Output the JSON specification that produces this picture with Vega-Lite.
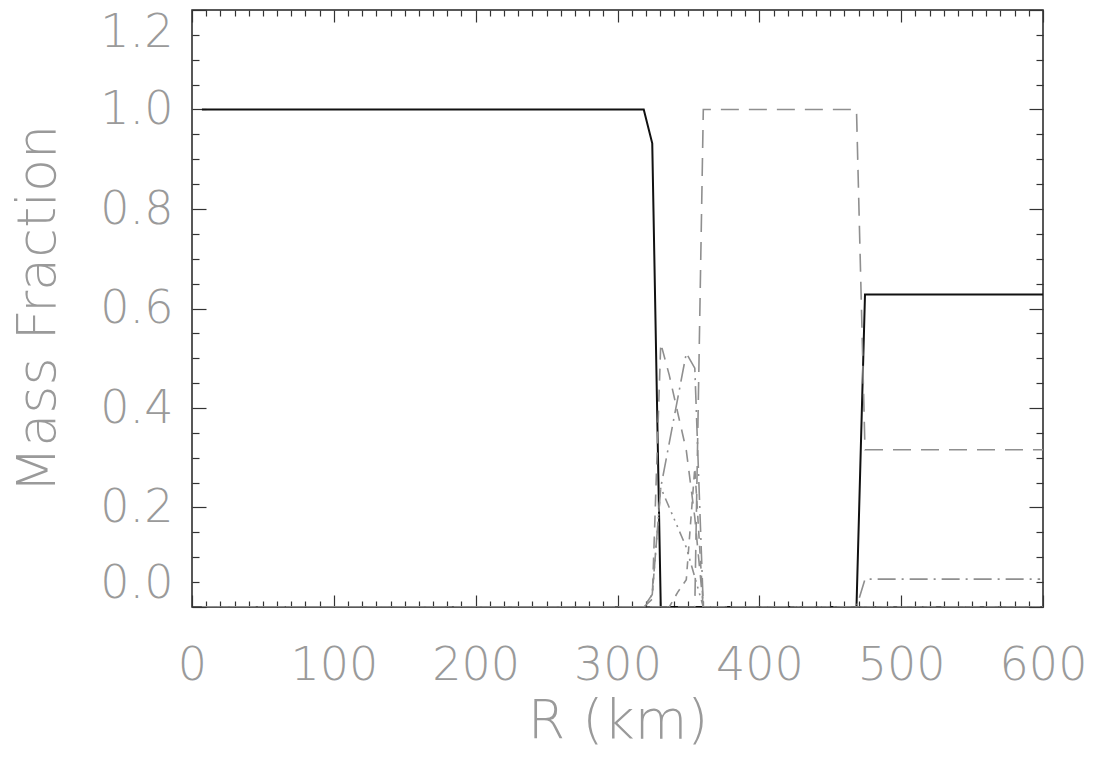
{
  "$schema": "https://vega.github.io/schema/vega-lite/v6.json",
  "width": 851,
  "height": 597,
  "autosize": {"type": "none"},
  "padding": {"left": 192, "top": 10, "right": 51, "bottom": 156},
  "background": "white",
  "config": {
    "view": {"stroke": "#222222", "strokeWidth": 1.5},
    "axis": {
      "grid": false,
      "domain": false,
      "labelFont": "DejaVu Sans",
      "titleFont": "DejaVu Sans",
      "labelFontWeight": 200,
      "titleFontWeight": 200,
      "labelColor": "#9a9a9a",
      "titleColor": "#9a9a9a",
      "labelFontSize": 46,
      "titleFontSize": 54,
      "tickColor": "#333333",
      "tickWidth": 1.2
    }
  },
  "data": {
    "values": [
      {"s": "a", "R": 7, "v": 1.0},
      {"s": "a", "R": 318.5, "v": 1.0},
      {"s": "a", "R": 324.5, "v": 0.932},
      {"s": "a", "R": 330.5, "v": 0.0},
      {"s": "a", "R": 468.5, "v": 0.0},
      {"s": "a", "R": 474.5, "v": 0.628},
      {"s": "a", "R": 600, "v": 0.628},
      {"s": "b", "R": 7, "v": 0.0},
      {"s": "b", "R": 354.5, "v": 0.0},
      {"s": "b", "R": 360.5, "v": 1.0},
      {"s": "b", "R": 468.5, "v": 1.0},
      {"s": "b", "R": 474.5, "v": 0.316},
      {"s": "b", "R": 600, "v": 0.316},
      {"s": "c", "R": 7, "v": 0.0},
      {"s": "c", "R": 318.5, "v": 0.0},
      {"s": "c", "R": 324.5, "v": 0.025},
      {"s": "c", "R": 330.5, "v": 0.24},
      {"s": "c", "R": 336.5, "v": 0.33},
      {"s": "c", "R": 342.5, "v": 0.42},
      {"s": "c", "R": 348.5, "v": 0.51},
      {"s": "c", "R": 354.5, "v": 0.48},
      {"s": "c", "R": 360.5, "v": 0.0},
      {"s": "c", "R": 468.5, "v": 0.0},
      {"s": "c", "R": 474.5, "v": 0.056},
      {"s": "c", "R": 598, "v": 0.056},
      {"s": "d", "R": 7, "v": 0.0},
      {"s": "d", "R": 318.5, "v": 0.0},
      {"s": "d", "R": 324.5, "v": 0.016},
      {"s": "d", "R": 330.5, "v": 0.53},
      {"s": "d", "R": 336.5, "v": 0.466},
      {"s": "d", "R": 342.5, "v": 0.39},
      {"s": "d", "R": 348.5, "v": 0.315},
      {"s": "d", "R": 354.5, "v": 0.18},
      {"s": "d", "R": 360.5, "v": 0.0},
      {"s": "d", "R": 600, "v": 0.0},
      {"s": "e", "R": 7, "v": 0.0},
      {"s": "e", "R": 318.5, "v": 0.0},
      {"s": "e", "R": 324.5, "v": 0.025},
      {"s": "e", "R": 330.5, "v": 0.24},
      {"s": "e", "R": 336.5, "v": 0.2},
      {"s": "e", "R": 342.5, "v": 0.16},
      {"s": "e", "R": 348.5, "v": 0.12},
      {"s": "e", "R": 354.5, "v": 0.06},
      {"s": "e", "R": 360.5, "v": 0.0},
      {"s": "e", "R": 600, "v": 0.0},
      {"s": "f", "R": 7, "v": 0.0},
      {"s": "f", "R": 336.5, "v": 0.0},
      {"s": "f", "R": 342.5, "v": 0.03},
      {"s": "f", "R": 348.5, "v": 0.055},
      {"s": "f", "R": 354.5, "v": 0.28},
      {"s": "f", "R": 360.5, "v": 0.0},
      {"s": "f", "R": 600, "v": 0.0}
    ]
  },
  "layer": [
    {
      "transform": [{"filter": "datum.s === 'a'"}],
      "mark": {"type": "line", "color": "#111111", "strokeWidth": 2, "clip": true},
      "encoding": {
        "x": {
          "field": "R", "type": "quantitative",
          "scale": {"domain": [0, 600], "nice": false, "zero": false},
          "axis": {
            "orient": "bottom",
            "values": [0, 100, 200, 300, 400, 500, 600],
            "ticks": false,
            "labelPadding": 36,
            "labelFlush": false,
            "labelOverlap": false,
            "labelBound": false,
            "title": "R (km)",
            "titlePadding": 6
          }
        },
        "y": {
          "field": "v", "type": "quantitative",
          "scale": {"domain": [0, 1.2], "nice": false, "zero": false},
          "axis": {
            "orient": "left",
            "values": [0, 0.2, 0.4, 0.6, 0.8, 1.0, 1.2],
            "format": ".1f",
            "ticks": false,
            "labelPadding": 19,
            "labelFlush": true,
            "labelOverlap": false,
            "title": "Mass Fraction",
            "titlePadding": 34
          }
        }
      }
    },
    {
      "transform": [{"filter": "datum.s === 'b'"}],
      "mark": {"type": "line", "color": "#8f8f8f", "strokeWidth": 1.6, "strokeDash": [18, 10], "clip": true},
      "encoding": {
        "x": {
          "field": "R", "type": "quantitative",
          "scale": {"domain": [0, 600], "nice": false, "zero": false},
          "axis": {
            "orient": "bottom",
            "values": [0,10,20,30,40,50,60,70,80,90,100,110,120,130,140,150,160,170,180,190,200,210,220,230,240,250,260,270,280,290,300,310,320,330,340,350,360,370,380,390,400,410,420,430,440,450,460,470,480,490,500,510,520,530,540,550,560,570,580,590,600],
            "labels": false,
            "title": null,
            "tickSize": {"condition": {"test": "datum.value % 100 === 0", "value": -12}, "value": -6}
          }
        },
        "y": {
          "field": "v", "type": "quantitative",
          "scale": {"domain": [0, 1.2], "nice": false, "zero": false},
          "axis": {
            "orient": "left",
            "values": [0,0.05,0.1,0.15,0.2,0.25,0.3,0.35,0.4,0.45,0.5,0.55,0.6,0.65,0.7,0.75,0.8,0.85,0.9,0.95,1.0,1.05,1.1,1.15,1.2],
            "labels": false,
            "title": null,
            "tickSize": {"condition": {"test": "abs(datum.value * 5 - round(datum.value * 5)) < 0.001", "value": -14}, "value": -7}
          }
        }
      }
    },
    {
      "transform": [{"filter": "datum.s === 'c'"}],
      "mark": {"type": "line", "color": "#8f8f8f", "strokeWidth": 1.6, "strokeDash": [18, 6, 2, 6], "clip": true},
      "encoding": {
        "x": {
          "field": "R", "type": "quantitative",
          "scale": {"domain": [0, 600], "nice": false, "zero": false},
          "axis": {
            "orient": "top",
            "values": [0,10,20,30,40,50,60,70,80,90,100,110,120,130,140,150,160,170,180,190,200,210,220,230,240,250,260,270,280,290,300,310,320,330,340,350,360,370,380,390,400,410,420,430,440,450,460,470,480,490,500,510,520,530,540,550,560,570,580,590,600],
            "labels": false,
            "title": null,
            "tickSize": {"condition": {"test": "datum.value % 100 === 0", "value": -12}, "value": -6}
          }
        },
        "y": {
          "field": "v", "type": "quantitative",
          "scale": {"domain": [0, 1.2], "nice": false, "zero": false},
          "axis": {
            "orient": "right",
            "values": [0,0.05,0.1,0.15,0.2,0.25,0.3,0.35,0.4,0.45,0.5,0.55,0.6,0.65,0.7,0.75,0.8,0.85,0.9,0.95,1.0,1.05,1.1,1.15,1.2],
            "labels": false,
            "title": null,
            "tickSize": {"condition": {"test": "abs(datum.value * 5 - round(datum.value * 5)) < 0.001", "value": -14}, "value": -7}
          }
        }
      }
    },
    {
      "transform": [{"filter": "datum.s === 'd'"}],
      "mark": {"type": "line", "color": "#8f8f8f", "strokeWidth": 1.6, "strokeDash": [12, 9], "clip": true},
      "encoding": {
        "x": {"field": "R", "type": "quantitative", "scale": {"domain": [0, 600], "nice": false, "zero": false}, "axis": null},
        "y": {"field": "v", "type": "quantitative", "scale": {"domain": [0, 1.2], "nice": false, "zero": false}, "axis": null}
      }
    },
    {
      "transform": [{"filter": "datum.s === 'e'"}],
      "mark": {"type": "line", "color": "#8f8f8f", "strokeWidth": 1.6, "strokeDash": [10, 5, 2, 5, 2, 5, 2, 5], "clip": true},
      "encoding": {
        "x": {"field": "R", "type": "quantitative", "scale": {"domain": [0, 600], "nice": false, "zero": false}, "axis": null},
        "y": {"field": "v", "type": "quantitative", "scale": {"domain": [0, 1.2], "nice": false, "zero": false}, "axis": null}
      }
    },
    {
      "transform": [{"filter": "datum.s === 'f'"}],
      "mark": {"type": "line", "color": "#8f8f8f", "strokeWidth": 1.6, "strokeDash": [8, 7], "clip": true},
      "encoding": {
        "x": {"field": "R", "type": "quantitative", "scale": {"domain": [0, 600], "nice": false, "zero": false}, "axis": null},
        "y": {"field": "v", "type": "quantitative", "scale": {"domain": [0, 1.2], "nice": false, "zero": false}, "axis": null}
      }
    }
  ],
  "resolve": {"axis": {"x": "independent", "y": "independent"}}
}
